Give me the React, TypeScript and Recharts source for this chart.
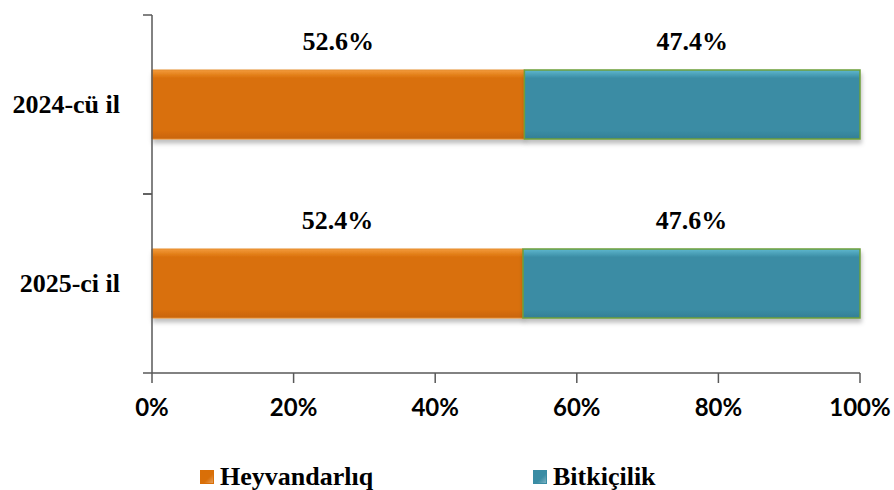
import React from "react";
import { BarChart, Bar, XAxis, YAxis, LabelList } from "recharts";

const categories = ["2024-cü il", "2025-ci il"];
const heyvandarliq = [52.6, 52.4];
const bitkicilik = [47.4, 47.6];
const xTicks = [0, 20, 40, 60, 80, 100];
const seriesNames = ["Heyvandarlıq", "Bitkiçilik"];

const data = categories.map((c, i) => ({
  year: c,
  h: heyvandarliq[i],
  b: bitkicilik[i],
}));

const ORANGE = "#D96F08";
const TEAL = "#3A8CA4";
const AXIS = "#595959";
const SERIF = "'Liberation Serif', 'Times New Roman', serif";
const SANS = "Lato, 'Liberation Sans', sans-serif";

const YTick = (props: any) => {
  const { x, y, payload } = props;
  const off = payload.offset || 0;
  return (
    <g>
      <line x1={x - 9} x2={x} y1={y - off} y2={y - off} stroke={AXIS} strokeWidth={1.5} />
      <line x1={x - 9} x2={x} y1={y + off} y2={y + off} stroke={AXIS} strokeWidth={1.5} />
      <text
        x={x - 32}
        y={y}
        textAnchor="end"
        dominantBaseline="central"
        fontFamily={SERIF}
        fontWeight="bold"
        fontSize={26}
        fill="#000"
      >
        {payload.value}
      </text>
    </g>
  );
};

const TopLabel = (props: any) => {
  const { x, y, width, value } = props;
  return (
    <text
      x={x + width / 2}
      y={y - 20}
      textAnchor="middle"
      fontFamily={SERIF}
      fontWeight="bold"
      fontSize={26}
      fill="#000"
    >
      {`${Number(value).toFixed(1)}%`}
    </text>
  );
};

const LegendItem = ({ left, color, label }: { left: number; color: string; label: string }) => (
  <div style={{ position: "absolute", left, top: 462, height: 30, display: "flex", alignItems: "center" }}>
    <div
      style={{
        width: 12,
        height: 12,
        background: `linear-gradient(135deg, ${color} 0%, ${color} 60%, #ffffff55 100%)`,
        backgroundColor: color,
        border: `1px solid ${color}`,
        marginRight: 6,
      }}
    />
    <span style={{ fontFamily: SERIF, fontWeight: "bold", fontSize: 26, color: "#000", lineHeight: "30px" }}>
      {label}
    </span>
  </div>
);

export default function App() {
  return (
    <div style={{ position: "absolute", left: 0, top: 0, width: 894, height: 490, background: "#fff" }}>
      <BarChart
        width={894}
        height={490}
        data={data}
        layout="vertical"
        margin={{ top: 15, right: 34, left: 0, bottom: 0 }}
      >
        <defs>
          <linearGradient id="gOrange" x1="0" y1="0" x2="0" y2="1">
            <stop offset="0%" stopColor="#F39A3A" />
            <stop offset="12%" stopColor={ORANGE} />
            <stop offset="88%" stopColor={ORANGE} />
            <stop offset="100%" stopColor="#C8640A" />
          </linearGradient>
          <linearGradient id="gTeal" x1="0" y1="0" x2="0" y2="1">
            <stop offset="0%" stopColor="#5FB8CF" />
            <stop offset="12%" stopColor={TEAL} />
            <stop offset="88%" stopColor={TEAL} />
            <stop offset="100%" stopColor="#347F95" />
          </linearGradient>
          <filter id="shadow" x="-5%" y="-10%" width="110%" height="130%">
            <feDropShadow dx="1" dy="4" stdDeviation="2" floodColor="#000" floodOpacity="0.25" />
          </filter>
        </defs>
        <XAxis
          type="number"
          domain={[0, 100]}
          ticks={xTicks}
          tickFormatter={(v: number) => `${v}%`}
          height={117}
          tickSize={10}
          tickMargin={16}
          axisLine={{ stroke: AXIS, strokeWidth: 1.5 }}
          tickLine={{ stroke: AXIS, strokeWidth: 1.5 }}
          tick={{ fontFamily: SANS, fontWeight: "bold", fontSize: 24, fill: "#000" }}
          interval={0}
        />
        <YAxis
          type="category"
          dataKey="year"
          width={152}
          tickLine={false}
          tickSize={0}
          tickMargin={0}
          axisLine={{ stroke: AXIS, strokeWidth: 1.5 }}
          tick={<YTick />}
          interval={0}
        />
        <Bar
          dataKey="h"
          stackId="a"
          barSize={69}
          fill="url(#gOrange)"
          stroke="#E58B2E"
          strokeWidth={1}
          filter="url(#shadow)"
          isAnimationActive={false}
          name={seriesNames[0]}
        >
          <LabelList dataKey="h" content={<TopLabel />} />
        </Bar>
        <Bar
          dataKey="b"
          stackId="a"
          barSize={69}
          fill="url(#gTeal)"
          stroke="#6E9E3A"
          strokeWidth={1.5}
          filter="url(#shadow)"
          isAnimationActive={false}
          name={seriesNames[1]}
        >
          <LabelList dataKey="b" content={<TopLabel />} />
        </Bar>
      </BarChart>
      <LegendItem left={200} color={ORANGE} label={seriesNames[0]} />
      <LegendItem left={533} color={TEAL} label={seriesNames[1]} />
    </div>
  );
}
